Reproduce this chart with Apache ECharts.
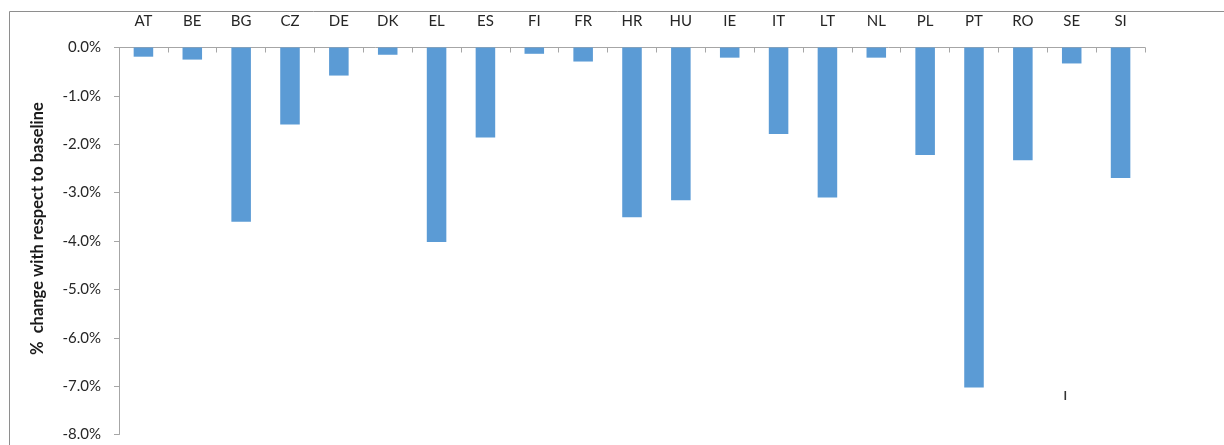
<!DOCTYPE html>
<html>
<head>
<meta charset="utf-8">
<script src="https://cdn.jsdelivr.net/npm/echarts@6/dist/echarts.min.js"></script>
<style>
  html, body { margin: 0; padding: 0; background: #ffffff; }
  #chart { width: 1224px; height: 445px; }
</style>
</head>
<body>
<div id="chart"></div>
<script>
// Member states (category axis along the top)
const countries = ['AT', 'BE', 'BG', 'CZ', 'DE', 'DK', 'EL', 'ES', 'FI', 'FR', 'HR',
                   'HU', 'IE', 'IT', 'LT', 'NL', 'PL', 'PT', 'RO', 'SE', 'SI'];

// % change with respect to baseline
const changePct = [-0.19, -0.25, -3.60, -1.59, -0.58, -0.15, -4.02, -1.86, -0.13, -0.29, -3.51,
                   -3.16, -0.21, -1.79, -3.10, -0.21, -2.22, -7.03, -2.33, -0.33, -2.70];

const yAxisTitle = '%  change with respect to baseline';

const chart = echarts.init(document.getElementById('chart'));
const fontFamily = 'Lato, "Open Sans", "Liberation Sans", sans-serif';

chart.setOption({
  animation: false,
  backgroundColor: '#ffffff',
  textStyle: { fontFamily: fontFamily },
  grid: { left: 119, right: 79, top: 47.5, bottom: 10.5 },
  graphic: [
    {
      type: 'rect',
      shape: { x: 9.5, y: 11.5, width: 1400, height: 600 },
      style: { fill: 'none', stroke: '#8e8e8e', lineWidth: 1 },
      silent: true,
      z: -1
    },
    {
      type: 'rect',
      shape: { x: 1064.5, y: 391, width: 1.6, height: 9 },
      style: { fill: '#333333' },
      silent: true
    }
  ],
  xAxis: {
    type: 'category',
    position: 'top',
    data: countries,
    axisLine: { show: true, onZero: true, lineStyle: { color: '#a6a6a6', width: 1 } },
    axisTick: { show: true, inside: true, length: 5, alignWithLabel: false, lineStyle: { color: '#a6a6a6' } },
    axisLabel: { color: '#262626', fontSize: 15, margin: 19, fontFamily: fontFamily },
    splitLine: { show: false }
  },
  yAxis: {
    type: 'value',
    min: -8,
    max: 0,
    interval: 1,
    name: yAxisTitle,
    nameLocation: 'middle',
    nameRotate: 90,
    nameGap: 73,
    nameTextStyle: { color: '#1a1a1a', fontSize: 16.5, fontWeight: 'bold', fontFamily: fontFamily, padding: [0, 0, 0, 25] },
    axisLine: { show: true, lineStyle: { color: '#a6a6a6', width: 1 } },
    axisTick: { show: true, length: 5, lineStyle: { color: '#a6a6a6' } },
    axisLabel: {
      color: '#262626',
      fontSize: 15,
      margin: 18,
      fontFamily: fontFamily,
      formatter: v => v.toFixed(1) + '%'
    },
    splitLine: { show: false }
  },
  series: [{
    type: 'bar',
    data: changePct,
    barWidth: '40%',
    itemStyle: { color: '#5b9bd5' }
  }]
});
</script>
</body>
</html>
